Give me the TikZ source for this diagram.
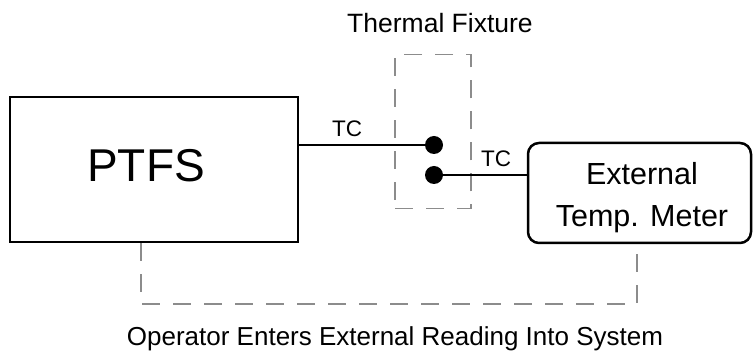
\documentclass[tikz,border=0pt]{standalone}
\usepackage{fontspec}
\setmainfont{Liberation Sans}
\begin{document}
\begin{tikzpicture}[x=1pt,y=-1pt,
  blackbox/.style={draw=black, line width=2.5pt, inner sep=0pt},
  fixbox/.style={draw=gray!90, line width=1.4pt, dash pattern=on 18pt off 13pt, inner sep=0pt, minimum width=76pt, minimum height=154pt},
  tcdot/.style={circle, fill=black, inner sep=0pt, minimum size=18pt},
  wire/.style={draw=black, line width=2.6pt},
  fb/.style={draw=gray!90, line width=1.4pt, dash pattern=on 18pt off 13pt},
  lbl/.style={anchor=base, inner sep=0pt, font=\fontsize{22.5}{26}\selectfont},
  title/.style={anchor=base, inner sep=0pt, font=\fontsize{26.5}{30}\selectfont}
]
\useasboundingbox (0,0) rectangle (753,352);
\node[blackbox, minimum width=288pt, minimum height=145pt] (ptfs) at (154,169.5) {};
\node[anchor=base, inner sep=0pt, font=\fontsize{46}{50}\selectfont] (ptfslbl) at (146,182) {PTFS};
\node[blackbox, rounded corners=11pt, minimum width=223pt, minimum height=100pt] (meter) at (639.5,193) {};
\node[anchor=base, inner sep=0pt, align=center, font=\fontsize{30.5}{42}\selectfont] (meterlbl) at (642,227) {External\\Temp. Meter};
\node[fixbox] (fix) at (433,131.5) {};
\node[tcdot] (d1) at (434,145) {};
\node[tcdot] (d2) at (434,175) {};
\draw[wire] (ptfs.east |- d1) -- (d1);
\draw[wire] (d2) -- (meter.west |- d2);
\node[lbl] (tc1) at (347,137) {TC};
\node[lbl] (tc2) at (496,167) {TC};
\coordinate (c1) at (141,304);
\coordinate (c2) at (637,304);
\draw[fb] (ptfs.south -| c1) -- (c1) -- (c2) -- (meter.south -| c2);
\node[title] (ttl) at (440,33) {Thermal Fixture};
\node[title, font=\fontsize{26}{30}\selectfont] (op) at (395,346) {Operator Enters External Reading Into System};
\end{tikzpicture}
\end{document}
